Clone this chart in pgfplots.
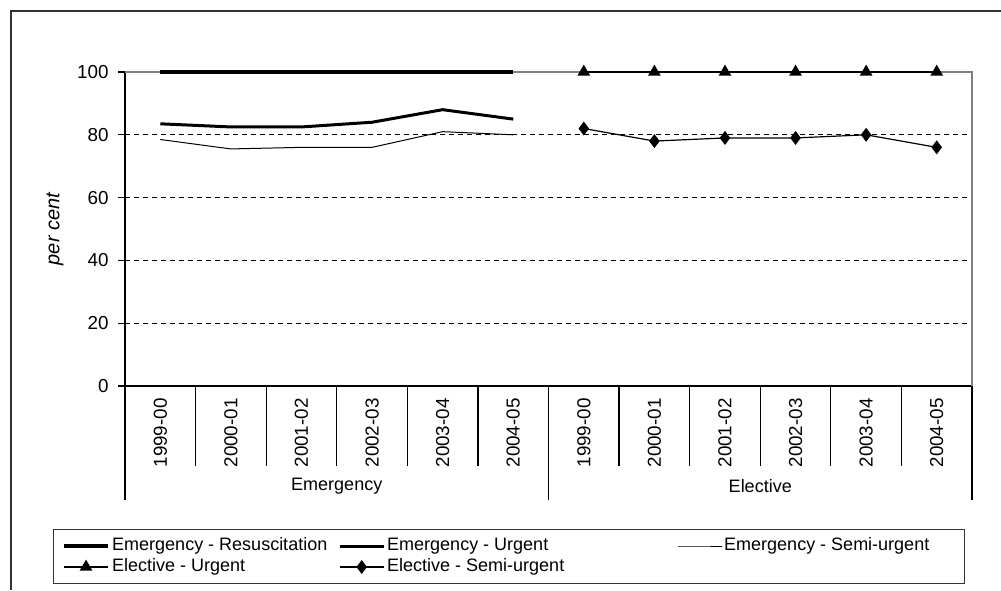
\documentclass[border=0pt]{standalone}
\usepackage{fontspec}
\setmainfont{Liberation Sans}
\usepackage{pgfplots}
\pgfplotsset{compat=1.18}
\begin{document}
\begin{tikzpicture}[x=1pt,y=1pt]
\useasboundingbox (0,0) rectangle (500.5,295);
\draw[black!80, line width=0.7pt] (5.5,0) -- (5.5,289.5) -- (501,289.5);
\begin{axis}[
    at={(62.5pt,102pt)}, anchor=south west,
    width=423.5pt, height=157pt, scale only axis,
    xmin=0, xmax=12, ymin=0, ymax=100,
    clip=false,
    axis x line*=bottom, axis y line*=left,
    axis line style={black, line width=0.6pt},
    xtick={0.5,1.5,...,11.5},
    xticklabels={1999-00,2000-01,2001-02,2002-03,2003-04,2004-05,
                 1999-00,2000-01,2001-02,2002-03,2003-04,2004-05},
    major x tick style={draw=none},
    xticklabel style={font=\fontsize{9.4}{11}\selectfont, yshift=-2.5pt, rotate=90, anchor=east, inner sep=0pt},
    ytick={0,20,40,60,80}, extra y ticks={100}, extra y tick style={grid=none},
    ymajorgrids, grid style={black, dash pattern=on 2.5pt off 2pt, line width=0.5pt},
    tick align=outside, major tick length=3.5pt,
    y tick style={black, line width=0.6pt},
    yticklabel style={font=\fontsize{9.4}{11}\selectfont, anchor=east, inner sep=0pt, xshift=-4.5pt},
    /pgf/number format/assume math mode=true,
    ylabel={\fontsize{10}{12}\selectfont\itshape per cent},
    every axis y label/.style={at={(axis description cs:-0.0826,0.5)}, rotate=90, anchor=center},
    legend columns=3,
    legend cell align=left,
    legend image code/.code={\draw[mark repeat=2,mark phase=2,#1] plot coordinates {(0pt,0pt) (11pt,0pt) (22pt,0pt)};},
    legend style={at={(axis description cs:0.4534,-0.543)}, anchor=center,
        draw=black!80, line width=0.6pt, font=\fontsize{9}{10.8}\selectfont,
        inner xsep=4pt, inner ysep=3pt,
        nodes={inner xsep=1pt, inner ysep=0pt, text height=7.5pt, text depth=3pt},
        /tikz/every even column/.append style={column sep=0pt}},
]
\draw[black!50, line width=0.7pt] (axis cs:0,100) -- (axis cs:12,100) -- (axis cs:12,0);

% Emergency
\addplot[black, line width=2.2pt] coordinates {(0.5,100) (1.5,100) (2.5,100) (3.5,100) (4.5,100) (5.5,100)};
\addlegendentry{\makebox[112pt][l]{Emergency - Resuscitation}}
\addplot[black, line width=1.5pt] coordinates {(0.5,83.5) (1.5,82.5) (2.5,82.5) (3.5,84) (4.5,88) (5.5,85)};
\addlegendentry{\makebox[144pt][l]{Emergency - Urgent}}
\addplot[black, line width=0.5pt] coordinates {(0.5,78.5) (1.5,75.5) (2.5,76) (3.5,76) (4.5,81) (5.5,80)};
\addlegendentry{\makebox[115pt][l]{Emergency - Semi-urgent}}

% Elective
\addplot[black, line width=0.8pt, mark=triangle*, mark size=2.9pt, mark options={solid}] coordinates {(6.5,100) (7.5,100) (8.5,100) (9.5,100) (10.5,100) (11.5,100)};
\addlegendentry{Elective - Urgent}
\addplot[black, line width=0.6pt, mark=diamond*, mark size=3pt] coordinates {(6.5,82) (7.5,78) (8.5,79) (9.5,79) (10.5,80) (11.5,76)};
\addlegendentry{Elective - Semi-urgent}

% category separators
\pgfplotsinvokeforeach{1,2,3,4,5,7,8,9,10,11}{
  \draw[black, line width=0.6pt] (axis cs:#1,0) -- ++(0pt,-40pt);
}
\pgfplotsinvokeforeach{0,6,12}{
  \draw[black, line width=0.6pt] (axis cs:#1,0) -- ++(0pt,-57pt);
}
\node[font=\fontsize{9}{10.8}\selectfont, yshift=-50pt] at (axis cs:3,0) {Emergency};
\node[font=\fontsize{9}{10.8}\selectfont, yshift=-50pt] at (axis cs:9,0) {Elective};
\end{axis}
\end{tikzpicture}
\end{document}
